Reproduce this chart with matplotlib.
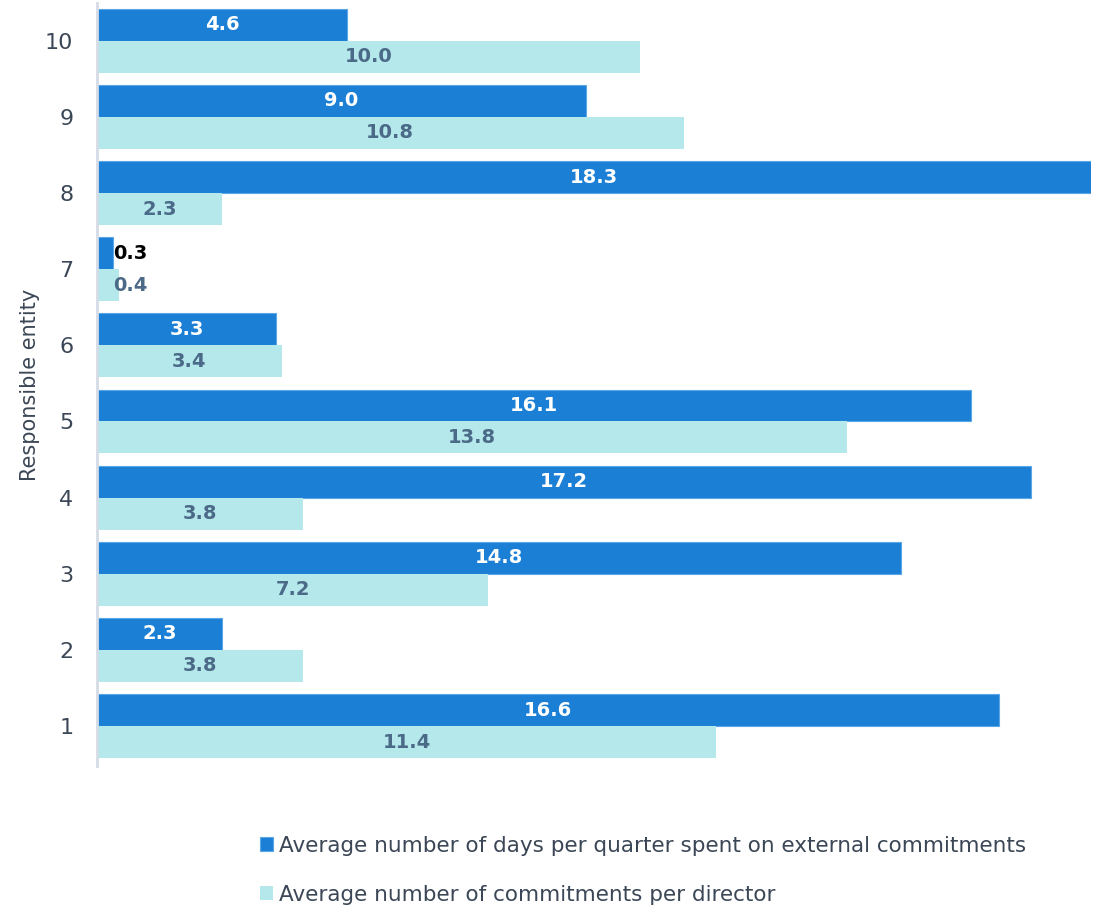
import matplotlib.pyplot as plt
import numpy as np

plt.rcParams['font.family'] = ['DejaVu Sans']

entities = ['1', '2', '3', '4', '5', '6', '7', '8', '9', '10']
days_external = [16.6, 2.3, 14.8, 17.2, 16.1, 3.3, 0.3, 18.3, 9.0, 4.6]
commitments = [11.4, 3.8, 7.2, 3.8, 13.8, 3.4, 0.4, 2.3, 10.8, 10.0]

dark = '#1b7fd5'
light = '#b5e8eb'
txt = '#3b4756'

fig = plt.figure(figsize=(11.02, 9.07), dpi=100)
ax = fig.add_axes([0.088, 0.155, 0.902, 0.842])

y = np.arange(1, len(entities) + 1)
h = 0.42
b1 = ax.barh(y + h / 2, days_external, height=h, color=dark,
             edgecolor='#5aa6e6', linewidth=0.8,
             label='Average number of days per quarter spent on external commitments')
b2 = ax.barh(y - h / 2, commitments, height=h, color=light, linewidth=0,
             label='Average number of commitments per director')

for rect, v in zip(b1, days_external):
    cy = rect.get_y() + rect.get_height() / 2
    if v < 1:
        ax.text(v, cy, f'{v:.1f}', ha='left', va='center', color='black',
                fontsize=14, fontweight='bold')
    else:
        ax.text(v / 2, cy, f'{v:.1f}', ha='center', va='center', color='white',
                fontsize=14, fontweight='bold')

for rect, v in zip(b2, commitments):
    cy = rect.get_y() + rect.get_height() / 2
    if v < 1:
        ax.text(v - 0.1, cy, f'{v:.1f}', ha='left', va='center', color='#4b6a88',
                fontsize=14, fontweight='bold')
    else:
        ax.text(v / 2, cy, f'{v:.1f}', ha='center', va='center', color='#4b6a88',
                fontsize=14, fontweight='bold')

ax.set_xlim(0, 18.3)
ax.set_ylim(0.47, 10.5)
ax.set_yticks(y)
ax.set_yticklabels(entities, fontsize=16, color=txt)
ax.tick_params(axis='y', length=0, pad=17)
ax.set_xticks([])
for s in ['top', 'right', 'bottom']:
    ax.spines[s].set_visible(False)
ax.spines['left'].set_color('#d5dce6')
ax.spines['left'].set_linewidth(2)
ax.set_ylabel('Responsible entity', fontsize=15, color=txt)
ax.yaxis.set_label_coords(-0.057, 0.5)

fig.legend(handles=[b1, b2], loc='upper left', bbox_to_anchor=(0.228, 0.088),
           frameon=False, fontsize=15.5, labelcolor=txt, handlelength=0.6,
           handleheight=0.6, handletextpad=0.3, labelspacing=1.35, borderaxespad=0)

fig.savefig('out.png', dpi=100)
